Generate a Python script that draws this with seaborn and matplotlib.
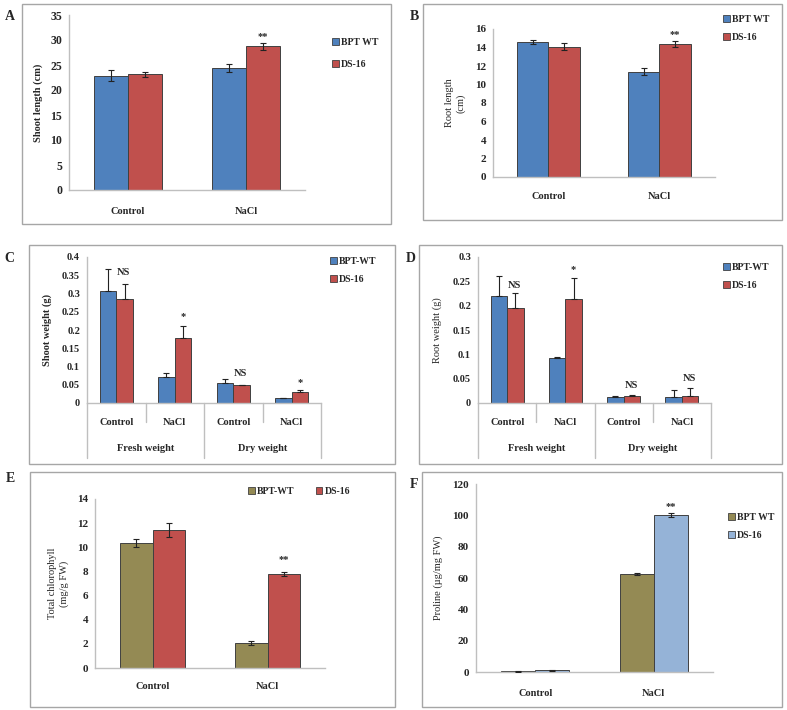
#!/usr/bin/env python3

import pandas as pd
import seaborn as sns
import matplotlib.pyplot as plt
from matplotlib.patches import Rectangle

W, H = 787, 710

# --- data ---
treat = ["Control", "NaCl"]
lines_ab = ["BPT WT", "DS-16"]
lines_cd = ["BPT-WT", "DS-16"]
groups = ["Fresh weight", "Dry weight"]
subcats = ["Control", "NaCl", "Control", "NaCl"]

shoot_len_wt = [22.9, 24.4]
shoot_len_wt_err = [1.1, 0.8]
shoot_len_ds = [23.2, 28.8]
shoot_len_ds_err = [0.5, 0.7]

root_len_wt = [14.6, 11.4]
root_len_wt_err = [0.25, 0.4]
root_len_ds = [14.1, 14.4]
root_len_ds_err = [0.35, 0.35]

shoot_wt_wt = [0.308, 0.072, 0.054, 0.013]
shoot_wt_wt_err = [0.06, 0.011, 0.011, 0.0005]
shoot_wt_ds = [0.284, 0.177, 0.049, 0.031]
shoot_wt_ds_err = [0.041, 0.035, 0.001, 0.005]

root_wt_wt = [0.219, 0.093, 0.012, 0.012]
root_wt_wt_err = [0.042, 0.001, 0.003, 0.015]
root_wt_ds = [0.196, 0.214, 0.015, 0.015]
root_wt_ds_err = [0.031, 0.042, 0.001, 0.016]

chl_wt = [10.36, 2.05]
chl_wt_err = [0.35, 0.15]
chl_ds = [11.42, 7.78]
chl_ds_err = [0.57, 0.2]

pro_wt = [0.5, 62.6]
pro_wt_err = [0.2, 0.8]
pro_ds = [1.2, 100.2]
pro_ds_err = [0.3, 1.5]

BLUE, RED = "#4F81BD", "#C0504D"
OLIVE, LBLUE = "#948A54", "#95B3D7"
SERIF = ["Liberation Serif", "DejaVu Serif"]

sns.set_theme(style="white")
plt.rcParams["font.family"] = SERIF
plt.rcParams["font.size"] = 7

fig = plt.figure(figsize=(W / 100, H / 100), dpi=100)


def px_rect(l, r, t, b):
    return [l / W, 1 - b / H, (r - l) / W, (b - t) / H]


def frame(l, t, r, b, letter, lx, ly):
    fig.patches.append(Rectangle((l / W, 1 - b / H), (r - l) / W, (b - t) / H,
                                 transform=fig.transFigure, fill=False,
                                 edgecolor="#A6A6A6", linewidth=1))
    fig.text(lx / W, 1 - ly / H, letter, fontsize=10, fontweight="bold",
             va="center", ha="left")


def panel(rect, cats, vals_a, err_a, vals_b, err_b, names, colors,
          ymax, ystep, ylabel, ylab_x, ylab_bold, ytick_size=8, both=True):
    ax = fig.add_axes(rect)
    df = pd.DataFrame({
        "cat": list(range(len(cats))) * 2,
        "line": [names[0]] * len(cats) + [names[1]] * len(cats),
        "val": list(vals_a) + list(vals_b),
    })
    sns.barplot(data=df, x="cat", y="val", hue="line", hue_order=names,
                palette=dict(zip(names, colors)), errorbar=None,
                width=0.57, edgecolor="#404040", linewidth=0.7,
                saturation=1, ax=ax)
    for cont, v, e in zip(ax.containers, [vals_a, vals_b], [err_a, err_b]):
        xs = [p.get_x() + p.get_width() / 2 for p in cont]
        yerr = e if both else [[0] * len(e), e]
        ax.errorbar(xs, v, yerr=yerr, fmt="none", ecolor="#222222",
                    elinewidth=0.8, capsize=2, capthick=0.8, zorder=5)
    ax.set_ylim(0, ymax)
    ticks = [i * ystep for i in range(int(round(ymax / ystep)) + 1)]
    ax.set_yticks(ticks)
    ax.set_yticklabels([f"{t:g}" for t in ticks], fontweight="bold")
    ax.set_xlim(-0.5, len(cats) - 0.5)
    ax.set_xlabel("")
    ax.set_ylabel(ylabel, fontweight="bold" if ylab_bold else "normal",
                  fontsize=7.5)
    ax.yaxis.set_label_coords(ylab_x, 0.5)
    for s in ["top", "right"]:
        ax.spines[s].set_visible(False)
    for s in ["left", "bottom"]:
        ax.spines[s].set_color("#BFBFBF")
        ax.spines[s].set_linewidth(1)
    ax.tick_params(axis="y", length=3, color="#BFBFBF", pad=2,
                   labelsize=ytick_size)
    ax.legend_.remove()
    return ax


def simple_xaxis(ax, cats, pad):
    ax.set_xticks(range(len(cats)))
    ax.set_xticklabels(cats, fontweight="bold", fontsize=7.5)
    ax.tick_params(axis="x", length=0, pad=pad)
    ax.set_xticks([i - 0.5 for i in range(len(cats) + 1)], minor=True)
    ax.tick_params(axis="x", which="minor", length=3, color="#BFBFBF")


def grouped_xaxis(ax):
    ax.set_xticks(range(len(subcats)))
    ax.set_xticklabels(subcats, fontweight="bold", fontsize=7.5)
    ax.tick_params(axis="x", length=0, pad=11)
    tr = ax.get_xaxis_transform()
    for i in range(len(subcats) + 1):
        depth = -0.38 if i % 2 == 0 else -0.13
        ax.plot([i - 0.5, i - 0.5], [0, depth], color="#BFBFBF", lw=1,
                transform=tr, clip_on=False)
    for j, g in enumerate(groups):
        ax.text(2 * j + 0.5, -0.31, g, transform=tr, ha="center",
                va="center", fontweight="bold", fontsize=7.5)


def legend(ax, names, colors, x, y, ncol=1, spacing=0.9):
    hs = [Rectangle((0, 0), 1, 1, facecolor=c, edgecolor="#404040", lw=0.6)
          for c in colors]
    ax.legend(hs, names, loc="upper left", bbox_to_anchor=(x / W, 1 - y / H),
              bbox_transform=fig.transFigure, frameon=False, ncol=ncol,
              borderpad=0, borderaxespad=0, handlelength=0.7,
              handleheight=0.7, handletextpad=0.2, labelspacing=spacing,
              columnspacing=2.2,
              prop={"family": SERIF, "weight": "bold", "size": 7})


def star(ax, x, y, s):
    ax.text(x, y, s, ha="center", va="bottom", fontweight="bold", fontsize=7.5)


# A
frame(22, 4, 391, 224, "A", 5, 17)
axA = panel(px_rect(69, 305, 15, 190), treat, shoot_len_wt, shoot_len_wt_err,
            shoot_len_ds, shoot_len_ds_err, lines_ab, [BLUE, RED],
            35, 5, "Shoot length (cm)", -0.11, True, ytick_size=8.5)
simple_xaxis(axA, treat, 12)
legend(axA, lines_ab, [BLUE, RED], 332, 38, spacing=1.3)
star(axA, 1.14, 29.8, "**")

# B
frame(423, 4, 782, 220, "B", 410, 16)
axB = panel(px_rect(493, 715, 29, 177), treat, root_len_wt, root_len_wt_err,
            root_len_ds, root_len_ds_err, lines_ab, [BLUE, RED],
            16, 2, "Root length\n(cm)", -0.125, False)
simple_xaxis(axB, treat, 11)
legend(axB, lines_ab, [BLUE, RED], 723, 15)
star(axB, 1.14, 14.9, "**")

# C
frame(29, 245, 395, 464, "C", 4, 258)
axC = panel(px_rect(87, 321, 257, 403), subcats, shoot_wt_wt, shoot_wt_wt_err,
            shoot_wt_ds, shoot_wt_ds_err, lines_cd, [BLUE, RED],
            0.4, 0.05, "Shoot weight (g)", -0.15, True, ytick_size=7.5,
            both=False)
grouped_xaxis(axC)
legend(axC, lines_cd, [BLUE, RED], 330, 257)
star(axC, 0.13, 0.345, "NS")
star(axC, 1.14, 0.225, "*")
star(axC, 2.13, 0.068, "NS")
star(axC, 3.14, 0.043, "*")

# D
frame(419, 245, 782, 464, "D", 406, 258)
axD = panel(px_rect(478, 711, 257, 403), subcats, root_wt_wt, root_wt_wt_err,
            root_wt_ds, root_wt_ds_err, lines_cd, [BLUE, RED],
            0.3, 0.05, "Root weight (g)", -0.155, False, ytick_size=7.5,
            both=False)
grouped_xaxis(axD)
legend(axD, lines_cd, [BLUE, RED], 723, 263)
star(axD, 0.13, 0.232, "NS")
star(axD, 1.14, 0.266, "*")
star(axD, 2.13, 0.027, "NS")
star(axD, 3.13, 0.041, "NS")

# E
frame(30, 472, 395, 707, "E", 6, 478)
axE = panel(px_rect(95, 325, 499, 668), treat, chl_wt, chl_wt_err,
            chl_ds, chl_ds_err, lines_cd, [OLIVE, RED],
            14, 2, "Total chlorophyll\n(mg/g FW)", -0.115, False)
simple_xaxis(axE, treat, 10)
legend(axE, lines_cd, [OLIVE, RED], 248, 487, ncol=2)
star(axE, 1.14, 8.6, "**")

# F
frame(422, 472, 782, 707, "F", 410, 485)
axF = panel(px_rect(476, 713, 484, 672), treat, pro_wt, pro_wt_err,
            pro_ds, pro_ds_err, lines_ab, [OLIVE, LBLUE],
            120, 20, "Proline (µg/mg FW)", -0.14, False)
simple_xaxis(axF, treat, 12)
legend(axF, lines_ab, [OLIVE, LBLUE], 728, 513)
star(axF, 1.14, 102.5, "**")

fig.savefig("out.png", dpi=100)
